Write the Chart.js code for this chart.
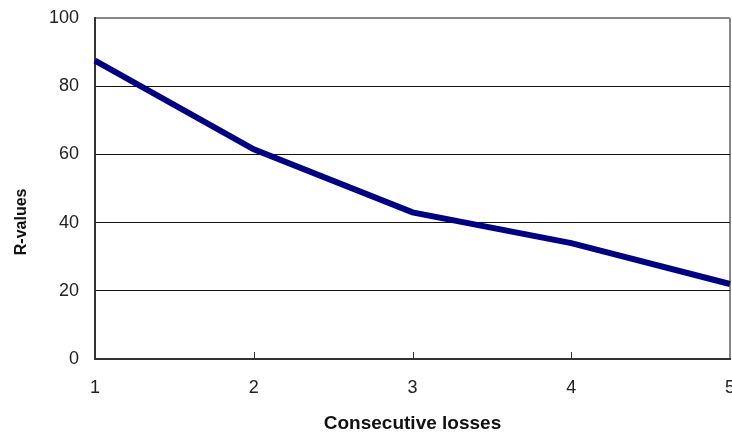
<!DOCTYPE html>
<html>
<head>
<meta charset="utf-8">
<script src="https://cdn.jsdelivr.net/npm/chart.js@4/dist/chart.umd.min.js"></script>
<style>
  html, body { margin: 0; padding: 0; background: #fff; }
  #wrap { width: 732px; height: 433px; }
</style>
</head>
<body>
<div id="wrap"><canvas id="rchart"></canvas></div>
<script>
var categories = ["1", "2", "3", "4", "5"]
var rValues = [87.5, 61.5, 43, 34, 22]
var yTicks = [0, 20, 40, 60, 80, 100]

// small tick marks on the x axis, pointing up into the plot
var innerTicks = {
  id: 'innerTicks',
  afterDatasetsDraw: function (chart) {
    var ctx = chart.ctx, x = chart.scales.x, area = chart.chartArea
    ctx.save()
    ctx.strokeStyle = '#333'
    ctx.lineWidth = 1
    for (var i = 1; i < categories.length - 1; i++) {
      var px = Math.round(x.getPixelForValue(i)) + 0.5
      ctx.beginPath()
      ctx.moveTo(px, area.bottom - 1)
      ctx.lineTo(px, area.bottom - 7)
      ctx.stroke()
    }
    ctx.restore()
  }
}

// trailing spaces push the rotated title down a little, like the original
var yTitle = 'R-values' + '\u00a0'.repeat(15)

var rchart = new Chart(document.getElementById('rchart'), {
  type: 'line',
  data: {
    labels: categories,
    datasets: [{
      label: 'R-values',
      data: rValues,
      borderColor: '#000080',
      backgroundColor: '#000080',
      borderWidth: 6,
      tension: 0,
      pointRadius: 0,
      fill: false
    }]
  },
  options: {
    responsive: true, maintainAspectRatio: false, animation: false,
    layout: {padding: {top: 18, right: 2, left: 0, bottom: 0}},
    plugins: {legend: {display: false}, tooltip: {enabled: false}},
    scales: {
      x: {
        offset: false,
        afterFit: function (s) { s.height = 74; s.paddingLeft = 0; s.paddingRight = 0 },
        grid: {
          drawTicks: false,
          color: function (c) { return c.index === categories.length - 1 ? '#888' : 'rgba(0,0,0,0)' },
          lineWidth: 2
        },
        border: {display: true, color: '#333', width: 2},
        ticks: {color: '#222', padding: 18, maxRotation: 0, font: {family: 'Liberation Sans', size: 18}},
        title: {display: true, text: 'Consecutive losses', color: '#111', padding: {top: 0, bottom: -2},
          font: {family: 'Liberation Sans', size: 19, weight: 'bold'}}
      },
      y: {
        min: 0, max: 100,
        afterFit: function (s) { s.width = 95; s.paddingTop = 0; s.paddingBottom = 0 },
        afterBuildTicks: function (s) { s.ticks = yTicks.map(function (v) { return {value: v} }) },
        grid: {
          drawTicks: false,
          color: function (c) {
            if (c.tick.value === 0) return 'rgba(0,0,0,0)'
            return c.tick.value === 100 ? '#888' : '#111'
          },
          lineWidth: function (c) { return c.tick.value === 100 ? 2 : 1 }
        },
        border: {display: true, color: '#333', width: 2},
        ticks: {color: '#222', padding: 16, font: {family: 'Liberation Sans', size: 18}},
        title: {display: true, text: yTitle, color: '#111', padding: {top: 12, bottom: 0},
          font: {family: 'Liberation Sans', size: 16, weight: 'bold'}}
      }
    }
  },
  plugins: [innerTicks]
});
</script>
</body>
</html>
